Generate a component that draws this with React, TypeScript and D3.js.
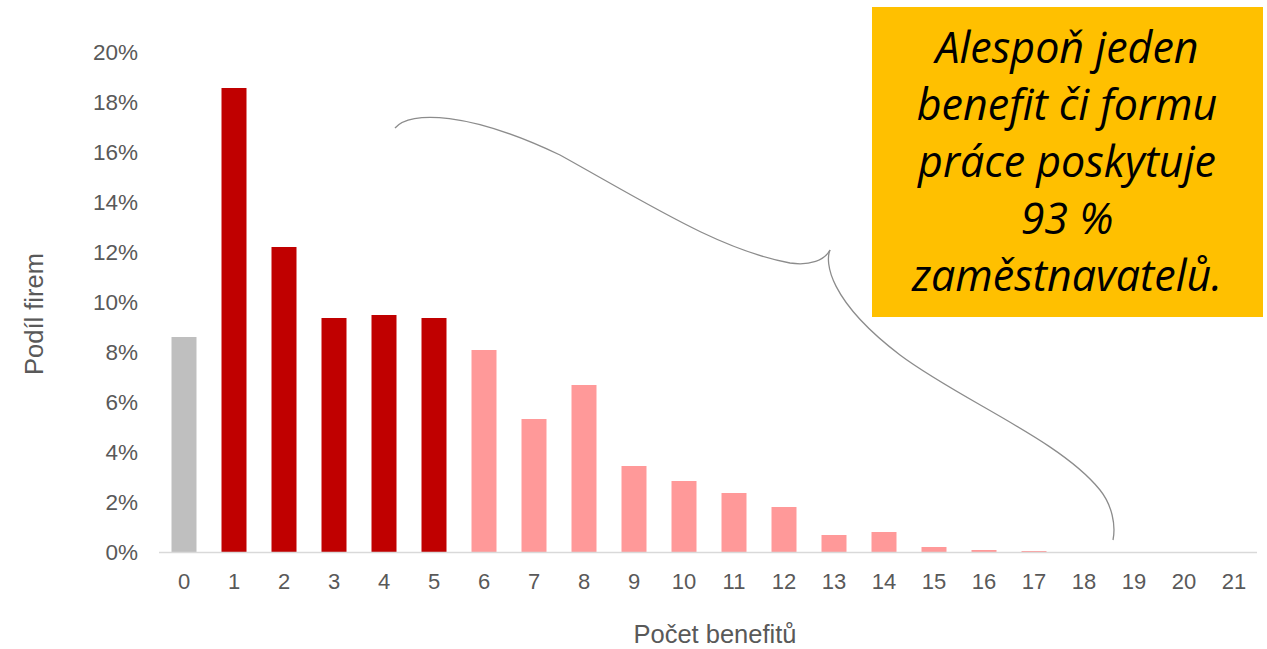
import React from "react";
import * as d3 from "d3";

const categories = ["0","1","2","3","4","5","6","7","8","9","10","11","12","13","14","15","16","17","18","19","20","21"];
const values = [8.6, 18.56, 12.2, 9.36, 9.48, 9.36, 8.08, 5.32, 6.68, 3.44, 2.84, 2.36, 1.8, 0.68, 0.8, 0.2, 0.08, 0.04, 0, 0, 0, 0];
const groups = ["none","few","few","few","few","few","many","many","many","many","many","many","many","many","many","many","many","many","many","many","many","many"];
const yTicks = [0, 2, 4, 6, 8, 10, 12, 14, 16, 18, 20];
const calloutLines = ["Alespoň jeden", "benefit či formu", "práce poskytuje", "93 %", "zaměstnavatelů."];
const xTitle = "Počet benefitů";
const yTitle = "Podíl firem";

const colors: Record<string, string> = { none: "#bfbfbf", few: "#c00000", many: "#ff9999" };

export default function App() {
  const W = 1267, H = 649;
  const x = d3.scaleBand().domain(categories).range([159, 1259]).paddingInner(0.5).paddingOuter(0.25);
  const y = d3.scaleLinear().domain([0, 20]).range([552, 52]);
  const font = "'Liberation Sans', Arial, sans-serif";
  const upper = "M395,128 C410,110 470,112 560,155 C650,205 720,250 790,263 C810,266 825,260 830,250";
  const lower = "M830,250 C825,262 828,300 900,355 C960,400 1060,440 1100,490 C1112,505 1116,525 1113,540";
  return (
    <svg width={W} height={H} style={{ position: "absolute", left: 0, top: 0 }}>
      <rect x={0} y={0} width={W} height={H} fill="#fff" />
      {categories.map((c, i) => (
        <rect key={c} x={x(c)!} y={y(values[i])} width={x.bandwidth()} height={y(0) - y(values[i])} fill={colors[groups[i]]} />
      ))}
      <line x1={159} x2={1257} y1={y(0) + 0.5} y2={y(0) + 0.5} stroke="#d9d9d9" strokeWidth={1.5} />
      {yTicks.map((t) => (
        <text key={t} x={138} y={y(t) + 8} textAnchor="end" fontFamily={font} fontSize={22.5} fill="#595959">{t}%</text>
      ))}
      {categories.map((c) => (
        <text key={c} x={x(c)! + x.bandwidth() / 2} y={589} textAnchor="middle" fontFamily={font} fontSize={22} fill="#595959">{c}</text>
      ))}
      <text x={715} y={643} textAnchor="middle" fontFamily={font} fontSize={25.5} fill="#595959">{xTitle}</text>
      <text transform="translate(43,314) rotate(-90)" textAnchor="middle" fontFamily={font} fontSize={25.5} fill="#595959">{yTitle}</text>
      <path d={upper} fill="none" stroke="#8c8c8c" strokeWidth={1.3} />
      <path d={lower} fill="none" stroke="#8c8c8c" strokeWidth={1.3} />
      <rect x={872} y={7} width={391} height={310} fill="#ffc000" />
      {calloutLines.map((l, i) => (
        <text key={i} x={1067} y={63 + i * 57} textAnchor="middle" fontFamily="'Open Sans', sans-serif" fontStyle="italic" fontSize={43} fill="#000">{l}</text>
      ))}
    </svg>
  );
}
